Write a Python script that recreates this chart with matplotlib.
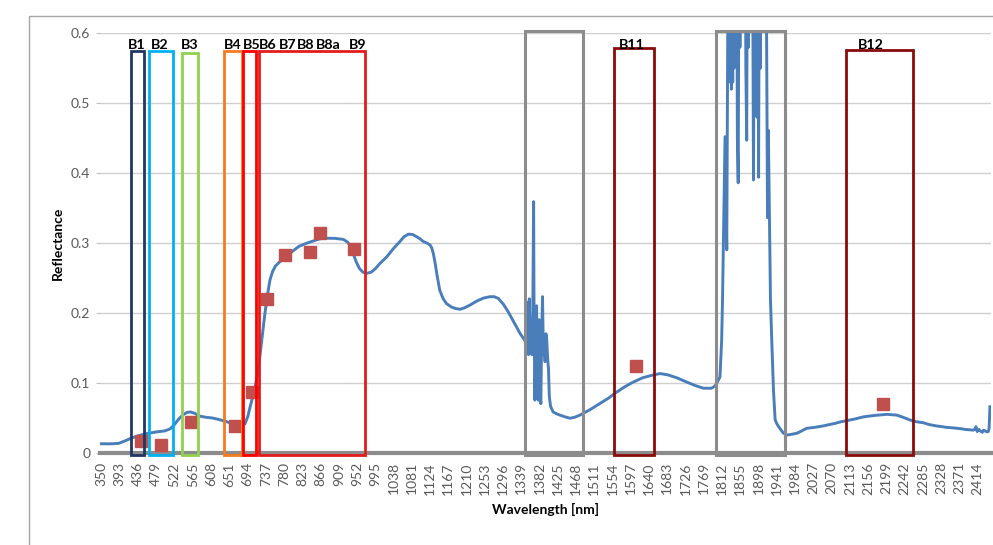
import matplotlib
matplotlib.use("Agg")
import matplotlib.pyplot as plt
from matplotlib.patches import Rectangle
import numpy as np

plt.rcParams['font.family'] = ['Lato', 'DejaVu Sans']

# Measured vegetation reflectance spectrum as (wavelength nm, reflectance) pairs
spectrum_vis_nir = [
    (350, 0.0125), (370, 0.0124), (390, 0.0130), (405, 0.0165), (420, 0.0205),
    (437, 0.0240), (456, 0.0270), (480, 0.0295), (500, 0.0310), (512, 0.0340),
    (522, 0.0400), (532, 0.0480), (542, 0.0540), (552, 0.0575), (560, 0.0580),
    (570, 0.0560), (582, 0.0520), (595, 0.0505), (610, 0.0495), (625, 0.0475),
    (645, 0.0440), (665, 0.0400), (678, 0.0385), (688, 0.0410), (695, 0.0520),
    (700, 0.0650), (706, 0.0790), (712, 0.0940), (718, 0.1150), (723, 0.1370),
    (729, 0.1680), (735, 0.1990), (741, 0.2260), (747, 0.2470), (753, 0.2590),
    (760, 0.2670), (770, 0.2730), (786, 0.2800), (800, 0.2880), (815, 0.2950),
    (833, 0.2995), (850, 0.3030), (865, 0.3060), (880, 0.3067), (900, 0.3065),
    (920, 0.3050), (930, 0.3010), (937, 0.2950), (943, 0.2850), (950, 0.2730),
    (958, 0.2630), (966, 0.2580), (975, 0.2565), (985, 0.2580), (995, 0.2630),
    (1005, 0.2700), (1022, 0.2800), (1038, 0.2920), (1053, 0.3020), (1063, 0.3090),
    (1073, 0.3125), (1083, 0.3120), (1092, 0.3090), (1100, 0.3060), (1108, 0.3020),
    (1116, 0.3000), (1124, 0.2970), (1128, 0.2930), (1132, 0.2840), (1136, 0.2710),
    (1141, 0.2520), (1147, 0.2320), (1155, 0.2200), (1163, 0.2130), (1175, 0.2080),
    (1185, 0.2060), (1195, 0.2050), (1205, 0.2070), (1218, 0.2110), (1235, 0.2170),
    (1250, 0.2210), (1265, 0.2230), (1275, 0.2230), (1285, 0.2205), (1297, 0.2120),
    (1308, 0.2015), (1322, 0.1860), (1336, 0.1705), (1350, 0.1580),
]
spectrum_water_1400 = [
    (1352, 0.1450), (1354, 0.2150), (1356, 0.1400), (1358, 0.2200), (1360, 0.1450),
    (1362, 0.1600), (1364, 0.1400), (1366, 0.2000), (1368, 0.3590), (1369, 0.2000),
    (1371, 0.0750), (1373, 0.1500), (1375, 0.2100), (1377, 0.1200), (1379, 0.0750),
    (1381, 0.1900), (1383, 0.0900), (1385, 0.0700), (1387, 0.1700), (1389, 0.2230),
    (1391, 0.1400), (1393, 0.1500), (1395, 0.1300), (1397, 0.1700), (1399, 0.1600),
    (1401, 0.1350), (1403, 0.1200), (1405, 0.0800), (1408, 0.0660), (1411, 0.0620),
    (1414, 0.0580), (1420, 0.0560), (1430, 0.0535), (1442, 0.0510), (1454, 0.0490),
    (1465, 0.0505), (1477, 0.0535), (1500, 0.0610), (1524, 0.0700), (1545, 0.0780),
    (1560, 0.0850), (1580, 0.0930), (1600, 0.1000), (1625, 0.1070), (1650, 0.1110),
    (1666, 0.1130), (1685, 0.1110), (1705, 0.1070), (1728, 0.1010), (1748, 0.0960),
    (1768, 0.0920), (1787, 0.0920), (1795, 0.0950), (1801, 0.1010), (1807, 0.1080),
]
spectrum_water_1900 = [
    (1811, 0.161), (1813, 0.218), (1819, 0.452), (1823, 0.290), (1826, 0.700),
    (1828, 0.560), (1829, 0.800), (1831, 0.530), (1832, 0.850), (1834, 0.520),
    (1835, 0.800), (1837, 0.530), (1838, 0.850), (1840, 0.550), (1842, 0.800),
    (1844, 0.570), (1846, 0.850), (1848, 0.450), (1850, 0.386), (1852, 0.800),
    (1854, 0.580), (1856, 0.850), (1858, 0.620), (1862, 0.900), (1866, 0.850),
    (1868, 0.550), (1870, 0.447), (1872, 0.850), (1874, 0.580), (1876, 0.900),
    (1881, 0.900), (1884, 0.700), (1886, 0.390), (1888, 0.800), (1890, 0.500),
    (1892, 0.850), (1894, 0.480), (1896, 0.820), (1898, 0.394), (1900, 0.800),
    (1902, 0.550), (1904, 0.850), (1909, 0.900), (1912, 0.620), (1914, 0.850),
    (1917, 0.580), (1919, 0.336), (1921, 0.461), (1926, 0.218), (1929, 0.161),
    (1933, 0.090), (1937, 0.0465),
]
spectrum_swir = [
    (1942, 0.0400), (1948, 0.0346), (1956, 0.0280), (1964, 0.0250), (1975, 0.0260),
    (1988, 0.0275), (2000, 0.0310), (2011, 0.0346), (2030, 0.0360), (2050, 0.0380),
    (2065, 0.0400), (2080, 0.0420), (2092, 0.0440), (2105, 0.0455), (2125, 0.0480),
    (2145, 0.0510), (2170, 0.0530), (2200, 0.0546), (2223, 0.0536), (2240, 0.0500),
    (2255, 0.0465), (2270, 0.0440), (2286, 0.0426), (2300, 0.0400), (2317, 0.0380),
    (2330, 0.0370), (2340, 0.0360), (2352, 0.0355), (2365, 0.0346), (2375, 0.0340),
    (2385, 0.0330), (2395, 0.0325), (2404, 0.0320), (2408, 0.0335), (2410, 0.0370),
    (2413, 0.0300), (2417, 0.0330), (2420, 0.0310), (2425, 0.0290), (2428, 0.0320),
    (2431, 0.0310), (2434, 0.0300), (2436, 0.0295), (2439, 0.0300), (2441, 0.0340),
    (2443, 0.0655),
]

# Sentinel-2 band reflectances at band centre wavelengths
band_names = ["B1", "B2", "B3", "B4", "B5", "B6", "B7", "B8", "B8a", "B9", "B11", "B12"]
band_center = [443, 490, 560, 665, 705, 740, 783, 842, 865, 945, 1610, 2190]
band_refl = [0.017, 0.011, 0.044, 0.038, 0.086, 0.219, 0.283, 0.287, 0.314, 0.291, 0.124, 0.070]

# Band windows drawn as outlined boxes (nm)
box_lo = [419, 462, 540, 639, 684, 720, 1558, 2105]
box_hi = [451, 519, 578, 680, 714, 971, 1652, 2261]
box_colors = ["#1f3864", "#00b0f0", "#92d050", "#f47b20", "#ff0000", "#e31b1b", "#8b0a0a", "#8b0a0a"]
box_tops = [0.574, 0.575, 0.572, 0.574, 0.574, 0.574, 0.579, 0.576]

# Water absorption regions (nm)
water_lo = [1348, 1798]
water_hi = [1484, 1960]

x_ticks = list(range(350, 2415, 43))

spectrum = spectrum_vis_nir + spectrum_water_1400 + spectrum_water_1900 + spectrum_swir
wl = [p[0] for p in spectrum]
refl = [p[1] for p in spectrum]

fig = plt.figure(figsize=(9.93, 5.45), dpi=100)
ax = fig.add_axes([100 / 993, 1 - 452.5 / 545, 891 / 993, 419.2 / 545])

# outer chart frame
fig.patches.append(Rectangle((29 / 993, -0.1), 1.2, 1 - 16 / 545 + 0.1,
                             transform=fig.transFigure, fill=False,
                             edgecolor="#a6a6a6", linewidth=1.0))

ax.set_xlim(346.5, 2445.5)
ax.set_ylim(0, 0.6)
ax.set_yticks(np.arange(0, 0.61, 0.1))
ax.set_yticklabels(["0", "0.1", "0.2", "0.3", "0.4", "0.5", "0.6"])
ax.set_xticks(x_ticks)
ax.set_xticklabels([str(t) for t in x_ticks], rotation=90)
ax.grid(axis="y", color="#d0d0d0", linewidth=1.0)
ax.set_axisbelow(True)
for side in ["top", "right", "left"]:
    ax.spines[side].set_visible(False)
ax.spines["bottom"].set_color("#8c8c8c")
ax.spines["bottom"].set_linewidth(3.0)
ax.tick_params(axis="y", length=3, color="#bfbfbf", labelsize=10,
               labelcolor="#595959", pad=4)
ax.tick_params(axis="x", length=0, labelsize=10, labelcolor="#595959", pad=7)

ax.plot(wl, refl, color="#4a7ebb", linewidth=2.1, zorder=3)
ax.plot(band_center, band_refl, linestyle="none", marker="s", markersize=8.5,
        color="#c0504d", zorder=4)

# band boxes
for lo, hi, c, top in zip(box_lo, box_hi, box_colors, box_tops):
    ax.add_patch(Rectangle((lo, -0.004), hi - lo, top + 0.004, fill=False,
                           edgecolor=c, linewidth=2.0, clip_on=False, zorder=5))
for lo, hi in zip(water_lo, water_hi):
    ax.add_patch(Rectangle((lo, -0.004), hi - lo, 0.6075, fill=False,
                           edgecolor="#8c8c8c", linewidth=2.2, clip_on=False, zorder=5))

label_at = [433, 488, 558, 659, 703, 742, 788, 831, 885, 953, 1600, 2162]
for name, xl in zip(band_names, label_at):
    ax.text(xl, 0.5775, name, ha="center", va="baseline", fontsize=10.3,
            fontweight="bold", color="#000000", zorder=6)

ax.set_ylabel("Reflectance", fontsize=10, fontweight="bold", color="#000000")
ax.yaxis.set_label_coords(-0.040, 0.5)
ax.set_xlabel("Wavelength [nm]", fontsize=10, fontweight="bold", color="#000000")
ax.xaxis.set_label_coords(0.5, -0.137)
ax.xaxis.label.set_va("center")

fig.savefig("out.png", dpi=100)
